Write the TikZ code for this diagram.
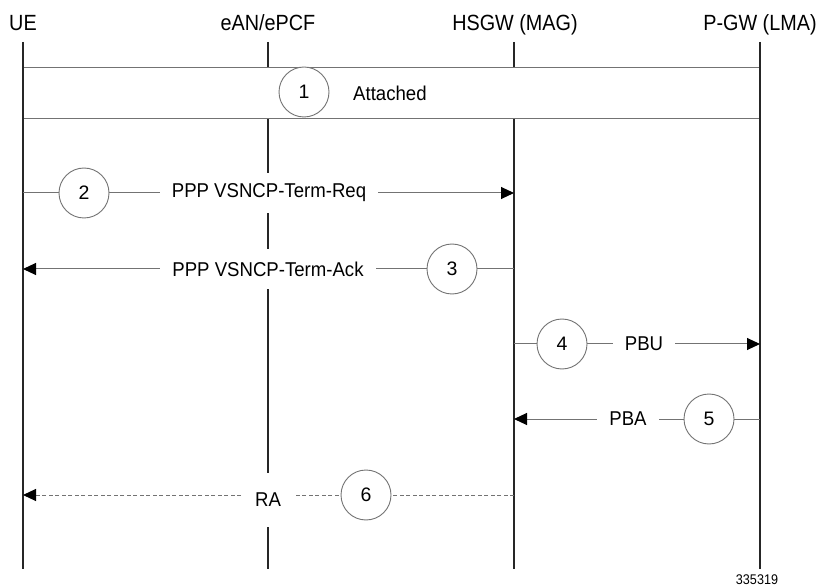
\documentclass[tikz,border=0pt]{standalone}
\usepackage{fontspec}
\usepackage{graphicx}
\setmainfont{Liberation Sans}
\usetikzlibrary{arrows.meta}
\newcommand{\hsqz}[1]{\scalebox{0.9}[1]{#1}}
\newcommand{\msqz}[1]{\scalebox{0.93}[1]{#1}}
\begin{document}
\begin{tikzpicture}[x=1pt,y=-1pt,
  head/.style={font=\fontsize{22}{26}\selectfont, anchor=base, inner sep=0pt},
  life/.style={line width=1.6pt, black!85},
  msg/.style={line width=1pt, gray!90!black},
  dmsg/.style={msg, dash pattern=on 4pt off 2.5pt},
  num/.style={circle, draw=gray!90!black, line width=0.9pt, fill=white, minimum size=50pt, inner sep=0pt, font=\fontsize{19.5}{22}\selectfont},
  lbl/.style={fill=white, inner xsep=12pt, inner ysep=0pt, minimum height=40pt, font=\fontsize{20}{24}\selectfont},
  tip/.style={-{Triangle[length=13pt,width=12pt,color=black]}}
]
\useasboundingbox (0,0) rectangle (820,588);

% heads
\node[head] (ue) at (23,31) {\hsqz{UE}};
\node[head] (ean) at (268,31) {\hsqz{eAN/ePCF}};
\node[head] (hsgw) at (515,31) {\hsqz{HSGW (MAG)}};
\node[head] (pgw) at (760,31) {\hsqz{P-GW (LMA)}};

% lifeline ends
\coordinate (ueT) at (23,42);   \coordinate (ueB) at (23,569);
\coordinate (eanT) at (268,42); \coordinate (eanB) at (268,569);
\coordinate (hsT) at (514,42);  \coordinate (hsB) at (514,569);
\coordinate (pgT) at (760,42);  \coordinate (pgB) at (760,569);

\draw[life] (eanT) -- (eanB);
\draw[life] (hsT) -- (hsB);

% attached box
\node[fill=white, draw=none, minimum width=737pt, minimum height=50pt, inner sep=0pt] (att) at (391.5,93) {};
\draw[msg] (att.north west) -- (att.north east);
\draw[msg] (att.south west) -- (att.south east);
\draw[life] (ueT) -- (ueB);
\draw[life] (pgT) -- (pgB);
\node[num] (c1) at (304,92) {1};
\node[anchor=west, inner sep=0pt, font=\fontsize{20}{24}\selectfont] (attt) at (353,93) {\msqz{Attached}};

% message 2
\coordinate (m2s) at (23,193); \coordinate (m2e) at (514,193);
\draw[msg, tip] (m2s) -- (m2e);
\node[lbl] (t2) at (269,193) {\msqz{PPP VSNCP-Term-Req}};
\node[num] (c2) at (84,193) {2};

% message 3
\coordinate (m3s) at (514,269); \coordinate (m3e) at (23,269);
\draw[msg, tip] (m3s) -- (m3e);
\node[lbl] (t3) at (268,269) {\msqz{PPP VSNCP-Term-Ack}};
\node[num] (c3) at (452,269) {3};

% message 4
\coordinate (m4s) at (514,344); \coordinate (m4e) at (760,344);
\draw[msg, tip] (m4s) -- (m4e);
\node[lbl] (t4) at (644,344) {\msqz{PBU}};
\node[num] (c4) at (562,344) {4};

% message 5
\coordinate (m5s) at (760,419); \coordinate (m5e) at (514,419);
\draw[msg, tip] (m5s) -- (m5e);
\node[lbl] (t5) at (628,419) {\msqz{PBA}};
\node[num] (c5) at (709,419) {5};

% message 6
\coordinate (m6s) at (514,495); \coordinate (m6e) at (23,495);
\draw[dmsg, tip] (m6s) -- (m6e);
\node[lbl, minimum height=54pt] (t6) at (268,500) {\msqz{RA}};
\node[num] (c6) at (366,495) {6};

\node[anchor=base, inner sep=0pt, font=\fontsize{14}{16}\selectfont] (fig) at (757,584) {\scalebox{0.9}[1]{335319}};
\end{tikzpicture}
\end{document}
